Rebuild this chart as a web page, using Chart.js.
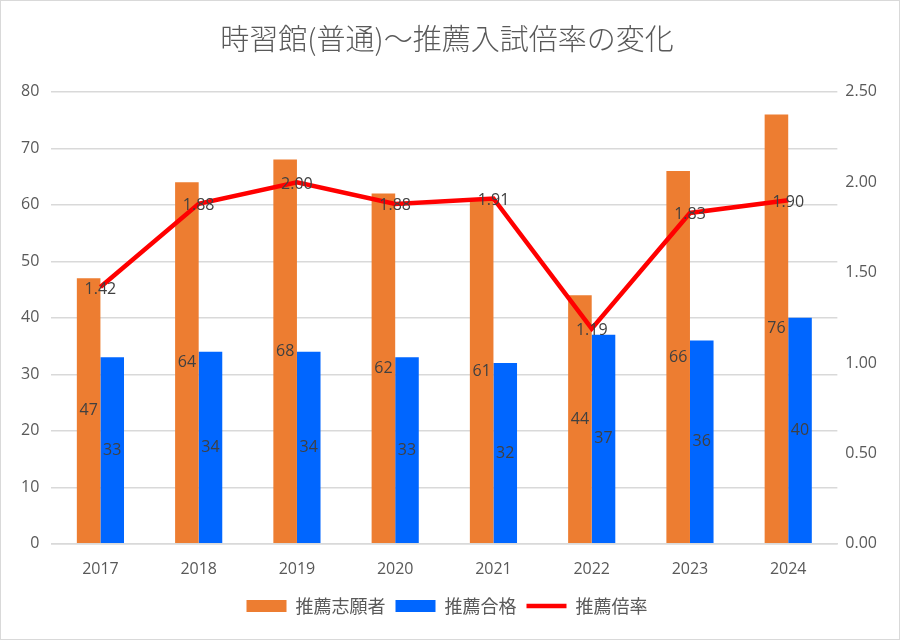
<!DOCTYPE html>
<html>
<head>
<meta charset="utf-8">
<script src="https://cdn.jsdelivr.net/npm/chart.js@4"></script>
<style>
  html, body { margin: 0; padding: 0; background: #fff; }
  #wrap { width: 898px; height: 638px; border: 1px solid #d9d9d9; }
</style>
</head>
<body>
<div id="wrap"><canvas id="chart" width="898" height="638"></canvas></div>
<script>
// data
const years = ["2017", "2018", "2019", "2020", "2021", "2022", "2023", "2024"];
const applicants = [47, 64, 68, 62, 61, 44, 66, 76];
const passed = [33, 34, 34, 33, 32, 37, 36, 40];
const ratio = [1.42, 1.88, 2.00, 1.88, 1.91, 1.19, 1.83, 1.90];

const textColor = "#595959";
const labelColor = "#404040";
const numFont = "'Open Sans', 'Noto Sans', sans-serif";
const jpFont = "'Noto Sans CJK JP', sans-serif";

// simple value labels drawn at each element
const valueLabels = {
  id: "valueLabels",
  afterDatasetsDraw(chart) {
    const ctx = chart.ctx;
    ctx.save();
    ctx.font = "16px " + numFont;
    ctx.fillStyle = labelColor;
    ctx.textAlign = "center";
    ctx.textBaseline = "middle";
    chart.data.datasets.forEach((ds, i) => {
      const meta = chart.getDatasetMeta(i);
      meta.data.forEach((el, j) => {
        const v = ds.data[j];
        if (ds.type === "line") {
          ctx.fillText(v.toFixed(2), el.x, el.y + 2);
        } else {
          const mid = (el.y + el.base) / 2;
          ctx.fillText(String(v), el.x, mid);
        }
      });
    });
    ctx.restore();
  }
};

new Chart(document.getElementById("chart"), {
  data: {
    labels: years,
    datasets: [
      {
        type: "line",
        label: "推薦倍率",
        data: ratio,
        yAxisID: "y2",
        borderColor: "#ff0000",
        backgroundColor: "#ff0000",
        borderWidth: 4.5,
        pointRadius: 0,
        pointStyle: "line",
        tension: 0,
        order: 0
      },
      {
        type: "bar",
        label: "推薦志願者",
        data: applicants,
        yAxisID: "y",
        backgroundColor: "#ed7d31",
        pointStyle: "rect",
        barPercentage: 1,
        categoryPercentage: 0.48,
        order: 1
      },
      {
        type: "bar",
        label: "推薦合格",
        data: passed,
        yAxisID: "y",
        backgroundColor: "#0066ff",
        pointStyle: "rect",
        barPercentage: 1,
        categoryPercentage: 0.48,
        order: 1
      }
    ]
  },
  options: {
    responsive: false,
    animation: false,
    layout: { padding: { left: 8, right: 14, top: 4, bottom: 14 } },
    plugins: {
      title: {
        display: true,
        text: "時習館(普通)～推薦入試倍率の変化",
        color: textColor,
        font: { family: jpFont, size: 29, weight: 300 },
        padding: { top: 17, bottom: 35 }
      },
      legend: {
        position: "bottom",
        labels: {
          color: textColor,
          font: { family: jpFont, size: 18 },
          usePointStyle: true,
          pointStyleWidth: 40,
          boxHeight: 12,
          padding: 10,
          sort: (a, b) => {
            const rank = { "推薦志願者": 0, "推薦合格": 1, "推薦倍率": 2 };
            return rank[a.text] - rank[b.text];
          }
        }
      },
      tooltip: { enabled: false }
    },
    scales: {
      x: {
        grid: { display: false },
        border: { color: "#d9d9d9", width: 1.5 },
        ticks: { color: textColor, font: { family: numFont, size: 16 }, padding: 8 }
      },
      y: {
        position: "left",
        min: 0,
        max: 80,
        ticks: { stepSize: 10, color: textColor, font: { family: numFont, size: 16 }, padding: 12 },
        grid: { color: "#d9d9d9", lineWidth: 1.5, drawTicks: false },
        border: { display: false }
      },
      y2: {
        position: "right",
        min: 0,
        max: 2.5,
        ticks: {
          stepSize: 0.5,
          color: textColor,
          font: { family: numFont, size: 16 },
          padding: 8,
          callback: v => v.toFixed(2)
        },
        grid: { display: false, drawTicks: false },
        border: { display: false }
      }
    }
  },
  plugins: [valueLabels]
});
</script>
</body>
</html>
